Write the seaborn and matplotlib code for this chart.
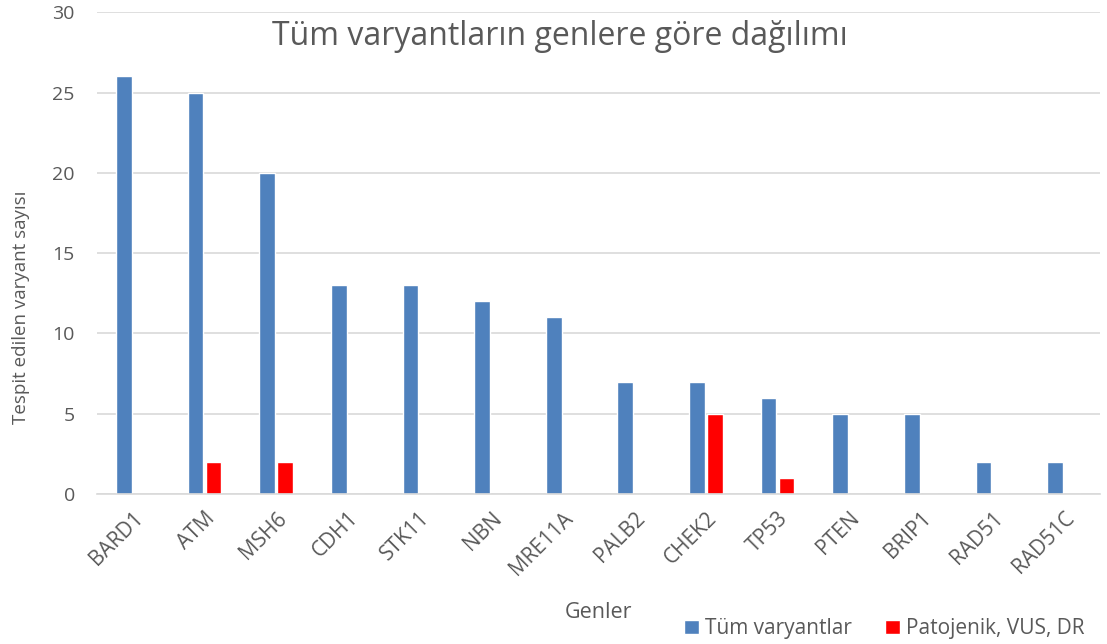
import matplotlib
matplotlib.use("Agg")
import matplotlib.pyplot as plt
import seaborn as sns
import pandas as pd

genes = ["BARD1", "ATM", "MSH6", "CDH1", "STK11", "NBN", "MRE11A",
         "PALB2", "CHEK2", "TP53", "PTEN", "BRIP1", "RAD51", "RAD51C"]
all_variants = [26, 25, 20, 13, 13, 12, 11, 7, 7, 6, 5, 5, 2, 2]
pathogenic = [0, 2, 2, 0, 0, 0, 0, 0, 5, 1, 0, 0, 0, 0]
series_names = ["Tüm varyantlar", "Patojenik, VUS, DR"]
colors = ["#4F81BD", "#FF0000"]

df = pd.DataFrame({
    "Gen": genes * 2,
    "Sayı": all_variants + pathogenic,
    "Seri": [series_names[0]] * len(genes) + [series_names[1]] * len(genes),
})

sns.set_style("white")
plt.rcParams["font.family"] = ["Open Sans", "DejaVu Sans"]
text_color = "#595959"

fig = plt.figure(figsize=(11.07, 6.44), dpi=100)
ax = fig.add_axes([0.0876, 0.233, 0.906, 0.748])

sns.barplot(data=df, x="Gen", y="Sayı", hue="Seri", palette=colors,
            saturation=1, width=0.5, gap=0.12, ax=ax, legend=True)

ax.set_ylim(0, 30)
ax.set_xlim(-0.5, len(genes) - 0.5)
ax.set_yticks(range(0, 31, 5))
ax.yaxis.grid(True, color="#D9D9D9", linewidth=1.2)
ax.set_axisbelow(True)
for s in ["top", "right", "left"]:
    ax.spines[s].set_visible(False)
ax.spines["bottom"].set_color("#D9D9D9")
ax.spines["bottom"].set_linewidth(1.2)

ax.tick_params(axis="y", length=0, labelsize=14, colors=text_color, pad=16)
ax.tick_params(axis="x", length=0, labelsize=15, colors=text_color, pad=10)
plt.setp(ax.get_xticklabels(), rotation=45, ha="right", rotation_mode="anchor")

ax.set_xlabel("Genler", fontsize=15.5, color=text_color)
ax.xaxis.set_label_coords(0.5, -0.225)
ax.set_ylabel("")
fig.text(0.019, 0.523, "Tespit edilen varyant sayısı", rotation=90,
         fontsize=13.5, color=text_color, ha="center", va="center")

fig.text(0.506, 0.944, "Tüm varyantların genlere göre dağılımı",
         fontsize=23, color=text_color, ha="center", va="center")

leg = ax.legend(loc="center", bbox_to_anchor=(0.785, -0.28), ncol=2,
                frameon=False, fontsize=15, handlelength=0.7,
                handleheight=0.7, handletextpad=0.3, columnspacing=1.6)
for t in leg.get_texts():
    t.set_color(text_color)

fig.savefig("out.png", dpi=100)
plt.close(fig)
